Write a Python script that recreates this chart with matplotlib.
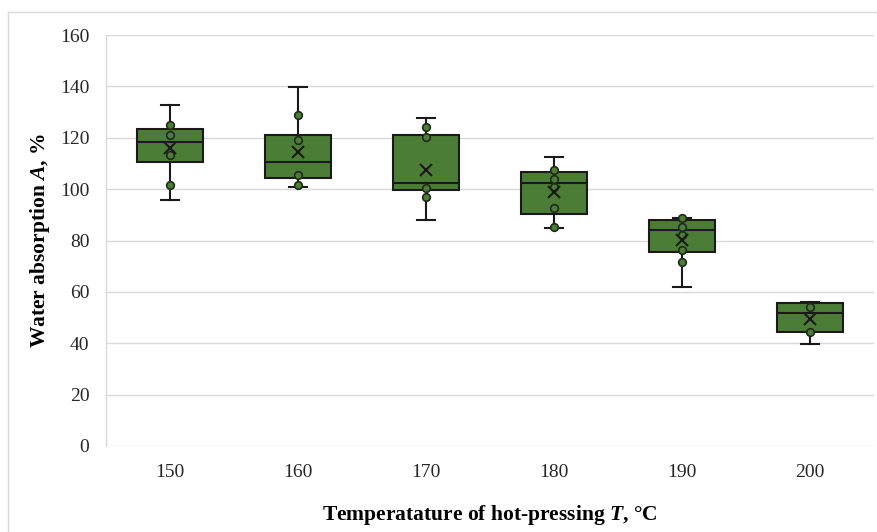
import matplotlib
matplotlib.use("Agg")
import matplotlib.pyplot as plt
from matplotlib.lines import Line2D

plt.rcParams["mathtext.fontset"] = "custom"
plt.rcParams["mathtext.bfit"] = "Liberation Serif:bold:italic"
plt.rcParams["mathtext.rm"] = "Liberation Serif"
plt.rcParams["mathtext.it"] = "Liberation Serif:italic"
plt.rcParams["mathtext.bf"] = "Liberation Serif:bold"

categories = ["150", "160", "170", "180", "190", "200"]
whisker_low = [95.8, 100.9, 88.0, 84.7, 62.0, 39.6]
q1 = [110.6, 104.2, 99.6, 90.5, 75.6, 44.5]
median = [118.3, 110.7, 102.3, 102.3, 84.1, 51.6]
q3 = [123.4, 121.0, 121.1, 106.8, 88.0, 55.5]
whisker_high = [132.7, 139.9, 127.5, 112.4, 88.6, 56.2]
means = [115.9, 114.6, 107.4, 99.0, 80.2, 49.6]
inner_points = [
    [101.6, 113.3, 121.2, 125.1],
    [101.6, 105.5, 119.1, 128.8],
    [97.0, 100.3, 120.4, 124.3],
    [85.4, 92.5, 100.7, 103.9, 107.4],
    [71.7, 76.3, 82.1, 85.4, 88.6],
    [44.5, 54.2],
]

W, H = 877, 532
fig = plt.figure(figsize=(W / 100, H / 100), dpi=100)
ax = fig.add_axes([106 / W, 1 - 446 / H, (874 - 106) / W, (446 - 35) / H])

fill = "#4c7d37"
edge = "#1a1a1a"

stats = []
for i in range(len(categories)):
    stats.append(dict(whislo=whisker_low[i], q1=q1[i], med=median[i], q3=q3[i],
                      whishi=whisker_high[i], fliers=[], label=categories[i]))
positions = list(range(len(categories)))
ax.bxp(stats, positions=positions, widths=0.51, patch_artist=True, showfliers=False,
       capwidths=0.14,
       boxprops=dict(facecolor=fill, edgecolor=edge, linewidth=1.5),
       medianprops=dict(color=edge, linewidth=1.5),
       whiskerprops=dict(color=edge, linewidth=1.5),
       capprops=dict(color=edge, linewidth=1.5), zorder=3)

for i, pts in enumerate(inner_points):
    ax.plot([positions[i]] * len(pts), pts, linestyle="none", marker="o", markersize=5.5,
            markerfacecolor=fill, markeredgecolor="#1f2a18", markeredgewidth=1.2, zorder=4)
ax.plot(positions, means, linestyle="none", marker="x", markersize=9,
        markeredgecolor="#1a1a1a", markeredgewidth=1.5, zorder=5)

ax.set_xlim(-0.5, len(categories) - 0.5)
ax.set_ylim(0, 160)
ax.set_yticks(range(0, 161, 20))
ax.set_xticks(positions)
ax.set_xticklabels(categories)
ax.yaxis.grid(True, color="#d9d9d9", linewidth=1.0, zorder=0)
ax.set_axisbelow(True)
for s in ["top", "right", "bottom"]:
    ax.spines[s].set_visible(False)
ax.spines["left"].set_color("#d9d9d9")
ax.spines["left"].set_linewidth(1.0)
ax.tick_params(axis="both", length=0, labelsize=14, labelcolor="#262626")
ax.tick_params(axis="y", pad=12)
ax.tick_params(axis="x", pad=13)
for lbl in ax.get_xticklabels() + ax.get_yticklabels():
    lbl.set_family("Liberation Serif")

ax.set_ylabel(r"Water absorption $\mathbfit{A}$, %", family="Liberation Serif",
              fontsize=15.5, fontweight="bold", labelpad=6)
ax.set_xlabel(r"Temperatature of hot-pressing $\mathbfit{T}$, °C", family="Liberation Serif",
              fontsize=15.5, fontweight="bold", labelpad=16)

fig.add_artist(Line2D([8 / W, 8 / W], [0, 1 - 12 / H], transform=fig.transFigure,
                      color="#d9d9d9", linewidth=1.0))
fig.add_artist(Line2D([8 / W, 1], [1 - 12 / H, 1 - 12 / H], transform=fig.transFigure,
                      color="#d9d9d9", linewidth=1.0))

fig.savefig("out.png", dpi=100)
